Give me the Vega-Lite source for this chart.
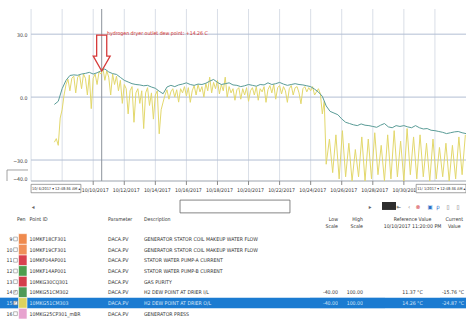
{
"$schema": "https://vega.github.io/schema/vega-lite/v6.json",
"padding": {"left": 0, "top": 8, "right": 0, "bottom": 0},
"background": "white",
"bounds": "flush",
"spacing": 42,
"config": {"view": {"stroke": null}, "font": "Liberation Sans Narrow, DejaVu Sans Condensed, Liberation Sans, sans-serif"},
"datasets": {
"table": [
{"row":"9","pid":"10MKF18CF301","param":"DACA.PV","desc":"GENERATOR STATOR COIL MAKEUP WATER FLOW","low":"","high":"","ref":"","cur":""},
{"row":"10","pid":"10MKF19CF301","param":"DACA.PV","desc":"GENERATOR STATOR COIL MAKEUP WATER FLOW","low":"","high":"","ref":"","cur":""},
{"row":"11","pid":"10MKF04AP001","param":"DACA.PV","desc":"STATOR WATER PUMP-A CURRENT","low":"","high":"","ref":"","cur":""},
{"row":"12","pid":"10MKF14AP001","param":"DACA.PV","desc":"STATOR WATER PUMP-B CURRENT","low":"","high":"","ref":"","cur":""},
{"row":"13","pid":"10MKG30CQ301","param":"DACA.PV","desc":"GAS PURITY","low":"","high":"","ref":"","cur":""},
{"row":"14","pid":"10MKG51CM302","param":"DACA.PV","desc":"H2 DEW POINT AT DRIER I/L","low":"-40.00","high":"100.00","ref":"11.37 °C","cur":"-15.76 °C"},
{"row":"15","pid":"10MKG51CM303","param":"DACA.PV","desc":"H2 DEW POINT AT DRIER O/L","low":"-40.00","high":"100.00","ref":"14.26 °C","cur":"-24.87 °C"},
{"row":"16","pid":"10MKG25CP301_mBR","param":"DACA.PV","desc":"GENERATOR PRESS","low":"","high":"","ref":"","cur":""}
],
"grid": [
{"time":"2017-10-06T00:00"},{"time":"2017-10-08T00:00"},{"time":"2017-10-10T00:00"},{"time":"2017-10-12T00:00"},{"time":"2017-10-14T00:00"},{"time":"2017-10-16T00:00"},{"time":"2017-10-18T00:00"},
{"time":"2017-10-20T00:00"},{"time":"2017-10-22T00:00"},{"time":"2017-10-24T00:00"},{"time":"2017-10-26T00:00"},{"time":"2017-10-28T00:00"},{"time":"2017-10-30T00:00"},{"time":"2017-11-01T00:00"}
],
"ticks": [
{"time":"2017-10-10T00:00"},{"time":"2017-10-12T00:00"},{"time":"2017-10-14T00:00"},{"time":"2017-10-16T00:00"},{"time":"2017-10-18T00:00"},{"time":"2017-10-20T00:00"},
{"time":"2017-10-22T00:00"},{"time":"2017-10-24T00:00"},{"time":"2017-10-26T00:00"},{"time":"2017-10-28T00:00"},{"time":"2017-10-30T00:00"}
],
"inlet": [
{"time":"2017-10-07T12:00","value":-3.5},{"time":"2017-10-07T18:00","value":-2.0},{"time":"2017-10-08T00:00","value":4.0},{"time":"2017-10-08T06:00","value":8.0},
{"time":"2017-10-08T12:00","value":10.3},{"time":"2017-10-08T18:00","value":10.6},{"time":"2017-10-09T00:00","value":10.4},{"time":"2017-10-09T06:00","value":11.0},
{"time":"2017-10-09T12:00","value":11.3},{"time":"2017-10-09T18:00","value":11.8},{"time":"2017-10-10T00:00","value":11.0},{"time":"2017-10-10T06:00","value":11.6},
{"time":"2017-10-10T12:00","value":12.5},{"time":"2017-10-10T18:00","value":13.4},{"time":"2017-10-11T00:00","value":12.0},{"time":"2017-10-11T06:00","value":11.2},
{"time":"2017-10-11T12:00","value":10.8},{"time":"2017-10-11T18:00","value":9.4},{"time":"2017-10-12T00:00","value":8.0},{"time":"2017-10-12T06:00","value":7.2},
{"time":"2017-10-12T12:00","value":6.4},{"time":"2017-10-12T18:00","value":6.0},{"time":"2017-10-13T00:00","value":5.8},{"time":"2017-10-13T06:00","value":5.4},
{"time":"2017-10-13T12:00","value":5.6},{"time":"2017-10-13T18:00","value":4.8},{"time":"2017-10-14T00:00","value":4.2},{"time":"2017-10-14T06:00","value":2.8},
{"time":"2017-10-14T12:00","value":1.6},{"time":"2017-10-14T18:00","value":4.8},{"time":"2017-10-15T00:00","value":5.6},{"time":"2017-10-15T06:00","value":5.0},
{"time":"2017-10-15T12:00","value":5.8},{"time":"2017-10-15T18:00","value":6.2},{"time":"2017-10-16T00:00","value":6.8},{"time":"2017-10-16T06:00","value":6.0},
{"time":"2017-10-16T12:00","value":5.6},{"time":"2017-10-16T18:00","value":6.2},{"time":"2017-10-17T00:00","value":6.0},{"time":"2017-10-17T06:00","value":6.6},
{"time":"2017-10-17T12:00","value":7.6},{"time":"2017-10-17T18:00","value":8.4},{"time":"2017-10-18T00:00","value":7.0},{"time":"2017-10-18T06:00","value":6.0},
{"time":"2017-10-18T12:00","value":6.4},{"time":"2017-10-18T18:00","value":6.8},{"time":"2017-10-19T00:00","value":5.8},{"time":"2017-10-19T06:00","value":5.6},
{"time":"2017-10-19T12:00","value":5.0},{"time":"2017-10-19T18:00","value":5.4},{"time":"2017-10-20T00:00","value":6.0},{"time":"2017-10-20T06:00","value":5.6},
{"time":"2017-10-20T12:00","value":5.2},{"time":"2017-10-20T18:00","value":6.0},{"time":"2017-10-21T00:00","value":5.8},{"time":"2017-10-21T06:00","value":6.8},
{"time":"2017-10-21T12:00","value":6.0},{"time":"2017-10-21T18:00","value":6.4},{"time":"2017-10-22T00:00","value":7.0},{"time":"2017-10-22T06:00","value":6.2},
{"time":"2017-10-22T12:00","value":5.6},{"time":"2017-10-22T18:00","value":6.0},{"time":"2017-10-23T00:00","value":6.4},{"time":"2017-10-23T06:00","value":6.0},
{"time":"2017-10-23T12:00","value":5.8},{"time":"2017-10-23T18:00","value":5.4},{"time":"2017-10-24T00:00","value":5.0},{"time":"2017-10-24T06:00","value":3.8},
{"time":"2017-10-24T12:00","value":2.4},{"time":"2017-10-24T18:00","value":0.4},{"time":"2017-10-25T00:00","value":-4.2},{"time":"2017-10-25T06:00","value":-6.8},
{"time":"2017-10-25T12:00","value":-7.6},{"time":"2017-10-25T18:00","value":-8.4},{"time":"2017-10-26T00:00","value":-10.4},{"time":"2017-10-26T06:00","value":-12.0},
{"time":"2017-10-26T12:00","value":-12.6},{"time":"2017-10-26T18:00","value":-13.2},{"time":"2017-10-27T00:00","value":-13.6},{"time":"2017-10-27T06:00","value":-12.8},
{"time":"2017-10-27T12:00","value":-13.4},{"time":"2017-10-27T18:00","value":-13.6},{"time":"2017-10-28T00:00","value":-14.0},{"time":"2017-10-28T06:00","value":-14.4},
{"time":"2017-10-28T12:00","value":-13.4},{"time":"2017-10-28T18:00","value":-12.6},{"time":"2017-10-29T00:00","value":-14.2},{"time":"2017-10-29T06:00","value":-14.6},
{"time":"2017-10-29T12:00","value":-13.6},{"time":"2017-10-29T18:00","value":-14.0},{"time":"2017-10-30T00:00","value":-13.6},{"time":"2017-10-30T06:00","value":-14.2},
{"time":"2017-10-30T12:00","value":-14.6},{"time":"2017-10-30T18:00","value":-13.6},{"time":"2017-10-31T00:00","value":-14.6},{"time":"2017-10-31T06:00","value":-15.2},
{"time":"2017-10-31T12:00","value":-15.0},{"time":"2017-10-31T18:00","value":-15.8},{"time":"2017-11-01T00:00","value":-16.0},{"time":"2017-11-01T06:00","value":-16.4},
{"time":"2017-11-01T12:00","value":-16.8},{"time":"2017-11-01T18:00","value":-17.4},{"time":"2017-11-02T00:00","value":-17.0},{"time":"2017-11-02T06:00","value":-16.6},
{"time":"2017-11-02T12:00","value":-16.4},{"time":"2017-11-02T18:00","value":-17.0},{"time":"2017-11-03T00:00","value":-17.4}
],
"outlet": [
{"time":"2017-10-07T12:00","value":-21.5},{"time":"2017-10-07T15:00","value":-19.8},{"time":"2017-10-07T18:00","value":-23.0},{"time":"2017-10-07T21:00","value":-10},
{"time":"2017-10-08T00:00","value":-6},{"time":"2017-10-08T03:00","value":1},{"time":"2017-10-08T06:00","value":6},{"time":"2017-10-08T09:00","value":8.5},
{"time":"2017-10-08T12:00","value":3},{"time":"2017-10-08T15:00","value":9},{"time":"2017-10-08T18:00","value":10},{"time":"2017-10-08T21:00","value":2},
{"time":"2017-10-09T00:00","value":9.5},{"time":"2017-10-09T03:00","value":10.5},{"time":"2017-10-09T06:00","value":4},{"time":"2017-10-09T09:00","value":11},
{"time":"2017-10-09T12:00","value":9},{"time":"2017-10-09T15:00","value":1},{"time":"2017-10-09T18:00","value":10.5},{"time":"2017-10-09T21:00","value":-5.5},
{"time":"2017-10-10T00:00","value":9},{"time":"2017-10-10T03:00","value":11},{"time":"2017-10-10T06:00","value":6},{"time":"2017-10-10T09:00","value":12},
{"time":"2017-10-10T12:00","value":11},{"time":"2017-10-10T15:00","value":13.8},{"time":"2017-10-10T18:00","value":8},{"time":"2017-10-10T21:00","value":12.5},
{"time":"2017-10-11T00:00","value":9.5},{"time":"2017-10-11T03:00","value":1},{"time":"2017-10-11T06:00","value":11},{"time":"2017-10-11T09:00","value":6},
{"time":"2017-10-11T12:00","value":10},{"time":"2017-10-11T15:00","value":3},{"time":"2017-10-11T18:00","value":8},{"time":"2017-10-11T21:00","value":-3},
{"time":"2017-10-12T00:00","value":6},{"time":"2017-10-12T03:00","value":4},{"time":"2017-10-12T06:00","value":-8},{"time":"2017-10-12T09:00","value":3},
{"time":"2017-10-12T12:00","value":5},{"time":"2017-10-12T15:00","value":-12},{"time":"2017-10-12T18:00","value":2},{"time":"2017-10-12T21:00","value":4},
{"time":"2017-10-13T00:00","value":-3},{"time":"2017-10-13T03:00","value":3},{"time":"2017-10-13T06:00","value":-15},{"time":"2017-10-13T09:00","value":2},
{"time":"2017-10-13T12:00","value":4.5},{"time":"2017-10-13T15:00","value":-4},{"time":"2017-10-13T18:00","value":2},{"time":"2017-10-13T21:00","value":-10.5},
{"time":"2017-10-14T00:00","value":1},{"time":"2017-10-14T03:00","value":3},{"time":"2017-10-14T06:00","value":-17.5},{"time":"2017-10-14T09:00","value":-6},
{"time":"2017-10-14T12:00","value":-2.4},{"time":"2017-10-14T15:00","value":1},{"time":"2017-10-14T18:00","value":3.5},{"time":"2017-10-14T21:00","value":-1},
{"time":"2017-10-15T00:00","value":2.5},{"time":"2017-10-15T03:00","value":4},{"time":"2017-10-15T06:00","value":0},{"time":"2017-10-15T09:00","value":3.5},
{"time":"2017-10-15T12:00","value":-2.4},{"time":"2017-10-15T15:00","value":4},{"time":"2017-10-15T18:00","value":2},{"time":"2017-10-15T21:00","value":5},
{"time":"2017-10-16T00:00","value":0.5},{"time":"2017-10-16T03:00","value":4.5},{"time":"2017-10-16T06:00","value":-2.5},{"time":"2017-10-16T09:00","value":3},
{"time":"2017-10-16T12:00","value":5.5},{"time":"2017-10-16T15:00","value":1},{"time":"2017-10-16T18:00","value":6},{"time":"2017-10-16T21:00","value":2.5},
{"time":"2017-10-17T00:00","value":5},{"time":"2017-10-17T03:00","value":0},{"time":"2017-10-17T06:00","value":6.5},{"time":"2017-10-17T09:00","value":3},
{"time":"2017-10-17T12:00","value":9.5},{"time":"2017-10-17T15:00","value":2},{"time":"2017-10-17T18:00","value":7},{"time":"2017-10-17T21:00","value":4},
{"time":"2017-10-18T00:00","value":8},{"time":"2017-10-18T03:00","value":1.5},{"time":"2017-10-18T06:00","value":6},{"time":"2017-10-18T09:00","value":3},
{"time":"2017-10-18T12:00","value":9.5},{"time":"2017-10-18T15:00","value":0},{"time":"2017-10-18T18:00","value":5},{"time":"2017-10-18T21:00","value":2},
{"time":"2017-10-19T00:00","value":4},{"time":"2017-10-19T03:00","value":-1.5},{"time":"2017-10-19T06:00","value":3.5},{"time":"2017-10-19T09:00","value":4.5},
{"time":"2017-10-19T12:00","value":-1},{"time":"2017-10-19T15:00","value":4},{"time":"2017-10-19T18:00","value":1},{"time":"2017-10-19T21:00","value":4.5},
{"time":"2017-10-20T00:00","value":-2},{"time":"2017-10-20T03:00","value":3},{"time":"2017-10-20T06:00","value":4.5},{"time":"2017-10-20T09:00","value":1},
{"time":"2017-10-20T12:00","value":5},{"time":"2017-10-20T15:00","value":-1.5},{"time":"2017-10-20T18:00","value":4},{"time":"2017-10-20T21:00","value":2.5},
{"time":"2017-10-21T00:00","value":5},{"time":"2017-10-21T03:00","value":-2.5},{"time":"2017-10-21T06:00","value":3.5},{"time":"2017-10-21T09:00","value":5.5},
{"time":"2017-10-21T12:00","value":2},{"time":"2017-10-21T15:00","value":6},{"time":"2017-10-21T18:00","value":-1},{"time":"2017-10-21T21:00","value":4.5},
{"time":"2017-10-22T00:00","value":5.5},{"time":"2017-10-22T03:00","value":1.5},{"time":"2017-10-22T06:00","value":5},{"time":"2017-10-22T09:00","value":3},
{"time":"2017-10-22T12:00","value":-2.5},{"time":"2017-10-22T15:00","value":4},{"time":"2017-10-22T18:00","value":5.5},{"time":"2017-10-22T21:00","value":1},
{"time":"2017-10-23T00:00","value":4.5},{"time":"2017-10-23T03:00","value":5},{"time":"2017-10-23T06:00","value":2},{"time":"2017-10-23T09:00","value":-3.2},
{"time":"2017-10-23T12:00","value":4},{"time":"2017-10-23T15:00","value":5},{"time":"2017-10-23T18:00","value":2.5},{"time":"2017-10-23T21:00","value":4.5},
{"time":"2017-10-24T00:00","value":3},{"time":"2017-10-24T03:00","value":5},{"time":"2017-10-24T06:00","value":1},{"time":"2017-10-24T09:00","value":2.5},
{"time":"2017-10-24T12:00","value":4},{"time":"2017-10-24T15:00","value":1.5},{"time":"2017-10-24T18:00","value":-8},{"time":"2017-10-24T21:00","value":-2},
{"time":"2017-10-25T00:00","value":-32},{"time":"2017-10-25T05:00","value":-20},{"time":"2017-10-25T10:00","value":-36},{"time":"2017-10-25T15:00","value":-18},
{"time":"2017-10-25T20:00","value":-39},{"time":"2017-10-26T01:00","value":-16},{"time":"2017-10-26T06:00","value":-38},{"time":"2017-10-26T11:00","value":-22},
{"time":"2017-10-26T16:00","value":-40},{"time":"2017-10-26T21:00","value":-25},{"time":"2017-10-27T02:00","value":-38},{"time":"2017-10-27T07:00","value":-19},
{"time":"2017-10-27T12:00","value":-40},{"time":"2017-10-27T17:00","value":-20},{"time":"2017-10-27T22:00","value":-39},{"time":"2017-10-28T03:00","value":-17},
{"time":"2017-10-28T08:00","value":-37},{"time":"2017-10-28T13:00","value":-23},{"time":"2017-10-28T18:00","value":-40},{"time":"2017-10-28T23:00","value":-18},
{"time":"2017-10-29T04:00","value":-39},{"time":"2017-10-29T09:00","value":-16},{"time":"2017-10-29T14:00","value":-38},{"time":"2017-10-29T19:00","value":-21},
{"time":"2017-10-30T00:00","value":-40},{"time":"2017-10-30T05:00","value":-15},{"time":"2017-10-30T10:00","value":-37},{"time":"2017-10-30T15:00","value":-19},
{"time":"2017-10-30T20:00","value":-39},{"time":"2017-10-31T01:00","value":-18},{"time":"2017-10-31T06:00","value":-38},{"time":"2017-10-31T11:00","value":-22},
{"time":"2017-10-31T16:00","value":-40},{"time":"2017-10-31T21:00","value":-20},{"time":"2017-11-01T02:00","value":-39},{"time":"2017-11-01T07:00","value":-24},
{"time":"2017-11-01T12:00","value":-38},{"time":"2017-11-01T17:00","value":-22},{"time":"2017-11-01T22:00","value":-40},{"time":"2017-11-02T03:00","value":-23},
{"time":"2017-11-02T08:00","value":-39},{"time":"2017-11-02T13:00","value":-19},{"time":"2017-11-02T18:00","value":-37},{"time":"2017-11-02T23:00","value":-18}
]
},
"vconcat": [
{
"width": 466, "height": 172,
"layer": [
{"data":{"name":"grid"},"mark":{"type":"rule","color":"#d9dee7","strokeWidth":1},
 "encoding":{
  "x":{"field":"time","type":"temporal","title":null,
   "scale":{"domain":[{"year":2017,"month":10,"date":4},{"year":2017,"month":11,"date":3}],"nice":false},
   "axis":{"grid":false,"domain":false,"ticks":false,"labels":false}}}},
{"data":{"values":[{"level":30},{"level":0},{"level":-30}]},"mark":{"type":"rule","color":"#b2bed3","strokeWidth":1},
 "encoding":{
  "y":{"field":"level","type":"quantitative","title":null,
   "scale":{"domain":[-40,42],"zero":false,"nice":false},
   "axis":{"values":[30,0,-30,-40],"offset":-31,"grid":false,"domain":false,"ticks":false,"tickSize":0,"labelPadding":4,"format":".1f","labelFlush":true,"labelFontSize":5.2,"labelColor":"#333333"}},
  "x":{"datum":{"year":2017,"month":10,"date":6},"type":"temporal","title":null},
  "x2":{"datum":{"year":2017,"month":11,"date":3}}}},
{"data":{"values":[{"level":-40}]},"mark":{"type":"rule","color":"#9ca3ad","strokeWidth":1},
 "encoding":{"y":{"field":"level","type":"quantitative","title":null},"x":{"datum":{"year":2017,"month":10,"date":6},"type":"temporal","title":null},"x2":{"datum":{"year":2017,"month":11,"date":3}}}},
{"data":{"name":"ticks"},"mark":{"type":"rule","color":"#8a8a8a","strokeWidth":1},
 "encoding":{"x":{"field":"time","type":"temporal","title":null},"y":{"datum":-40,"type":"quantitative","title":null},"y2":{"datum":-41.9}}},
{"data":{"values":[{"time":"2017-10-10T13:08"}]},"mark":{"type":"rule","color":"#8d939c","strokeWidth":1},
 "encoding":{"x":{"field":"time","type":"temporal","title":null}}},
{"data":{"name":"outlet"},"mark":{"type":"line","color":"#e3d86c","strokeWidth":1,"clip":true},
 "encoding":{"x":{"field":"time","type":"temporal","title":null},"y":{"field":"value","type":"quantitative","title":null}}},
{"data":{"name":"inlet"},"mark":{"type":"line","color":"#5a9c97","strokeWidth":1,"clip":true},
 "encoding":{"x":{"field":"time","type":"temporal","title":null},"y":{"field":"value","type":"quantitative","title":null}}},
{"data":{"values":[{"time":"2017-10-10T13:08","value":21.0}]},
 "mark":{"type":"point","shape":"M-0.28,-1L0.28,-1L0.28,0.17L0.47,0.17L0,1L-0.47,0.17L-0.28,0.17Z","size":1296,"filled":false,"stroke":"#d63b3b","strokeWidth":1.3,"opacity":1},
 "encoding":{"x":{"field":"time","type":"temporal","title":null},"y":{"field":"value","type":"quantitative","title":null}}},
{"data":{"values":[{"time":"2017-10-10T21:20","value":30.7,"label":"hydrogen dryer outlet dew point: +14.26 C"}]},
 "mark":{"type":"text","align":"left","baseline":"middle","fontSize":5.2,"color":"#d6322f"},
 "encoding":{"x":{"field":"time","type":"temporal","title":null},"y":{"field":"value","type":"quantitative","title":null},"text":{"field":"label"}}},
{"data":{"name":"ticks"},"mark":{"type":"text","align":"center","baseline":"middle","fontSize":5.2,"color":"#333333","dx":2},
 "encoding":{"x":{"field":"time","type":"temporal","title":null},"y":{"datum":-44.3,"type":"quantitative","title":null},"text":{"field":"time","type":"temporal","format":"%m/%d/%Y"}}},
{"data":{"values":[{"start":"2017-10-04T10:50","end":"2017-10-05T19:15","level":-34.75}]},"mark":{"type":"rule","color":"#8c8c8c","strokeWidth":0.8},
 "encoding":{"x":{"field":"start","type":"temporal","title":null},"x2":{"field":"end"},"y":{"field":"level","type":"quantitative","title":null}}},
{"data":{"values":[{"start":"2017-10-04T10:50","top":-34.75,"bottom":-40}]},"mark":{"type":"rule","color":"#8c8c8c","strokeWidth":0.8},
 "encoding":{"x":{"field":"start","type":"temporal","title":null},"y":{"field":"top","type":"quantitative","title":null},"y2":{"field":"bottom"}}},
{"data":{"values":[{"start":"2017-10-06T00:00","end":"2017-10-09T05:00"},{"start":"2017-10-30T19:00","end":"2017-11-03T00:00"}]},
 "mark":{"type":"rect","fill":"white","stroke":"#7a7a7a","strokeWidth":0.7},
 "encoding":{"x":{"field":"start","type":"temporal","title":null},"x2":{"field":"end"},"y":{"datum":-41.6,"type":"quantitative","title":null},"y2":{"datum":-45.6}}},
{"data":{"values":[{"time":"2017-10-06T01:30","label":"10/ 6/2017 ▾ 12:48:36 AM ▴"},{"time":"2017-10-30T20:30","label":"11/ 1/2017 ▾ 12:48:36 AM ▴"}]},
 "mark":{"type":"text","align":"left","baseline":"middle","fontSize":3.9,"color":"#333333"},
 "encoding":{"x":{"field":"time","type":"temporal","title":null},"y":{"datum":-43.6,"type":"quantitative","title":null},"text":{"field":"label"}}},
{"data":{"values":[{"start":"2017-10-15T14:10","end":"2017-10-22T16:00"}]},
 "mark":{"type":"rect","fill":"white","stroke":"#666666","strokeWidth":0.8},
 "encoding":{"x":{"field":"start","type":"temporal","title":null},"x2":{"field":"end"},"y":{"datum":-49.1,"type":"quantitative","title":null},"y2":{"datum":-55.2}}},
{"data":{"values":[{"start":"2017-10-28T14:10","end":"2017-10-29T11:50"}]},
 "mark":{"type":"rect","fill":"#2d2d2d"},
 "encoding":{"x":{"field":"start","type":"temporal","title":null},"x2":{"field":"end"},"y":{"datum":-50.0,"type":"quantitative","title":null},"y2":{"datum":-53.8}}},
{"data":{"values":[{"time":"2017-10-06T03:00","label":"◂"},{"time":"2017-10-27T19:40","label":"▸"},{"time":"2017-10-29T16:00","label":"⇤"},{"time":"2017-10-30T08:00","label":"‹"},{"time":"2017-11-01T20:10","label":"▯"},{"time":"2017-11-02T11:40","label":"▯"}]},
 "mark":{"type":"text","align":"center","baseline":"middle","fontSize":6,"color":"#666666"},
 "encoding":{"x":{"field":"time","type":"temporal","title":null},"y":{"datum":-52.4,"type":"quantitative","title":null},"text":{"field":"label"}}},
{"data":{"values":[{"time":"2017-10-30T21:50","label":"⊗"}]},
 "mark":{"type":"text","align":"center","baseline":"middle","fontSize":6,"color":"#d33a3a"},
 "encoding":{"x":{"field":"time","type":"temporal","title":null},"y":{"datum":-52.4,"type":"quantitative","title":null},"text":{"field":"label"}}},
{"data":{"values":[{"time":"2017-10-31T16:20","label":"▣"},{"time":"2017-11-01T04:50","label":"ρ"}]},
 "mark":{"type":"text","align":"center","baseline":"middle","fontSize":6,"color":"#2a6fc9"},
 "encoding":{"x":{"field":"time","type":"temporal","title":null},"y":{"datum":-52.4,"type":"quantitative","title":null},"text":{"field":"label"}}}
]
},
{
"hconcat": [
{"width":13,"height":96,"data":{"name":"table"},"layer":[
 {"transform":[{"filter":"datum.row === '15'"}],"mark":{"type":"rect","fill":"#1b7bd1"},"encoding":{"x":{"datum":0,"type":"quantitative","scale":{"domain":[0,1]},"axis":null},"x2":{"datum":1},"y":{"field":"row","type":"nominal","scale":{"domain":["hdr","9","10","11","12","13","14","15","16"],"paddingInner":0,"paddingOuter":0},"axis":null}}},
 {"mark":{"type":"text","align":"right","baseline":"middle","fontSize":5.2},"encoding":{"x":{"datum":0.95,"type":"quantitative","scale":{"domain":[0,1]},"axis":null},"y":{"field":"row","type":"nominal","scale":{"domain":["hdr","9","10","11","12","13","14","15","16"],"paddingInner":0,"paddingOuter":0},"axis":null},"text":{"field":"row"},"color":{"condition":{"test":"datum.row === '15'","value":"#d8e6f7"},"value":"#333333"}}}
]},
{"width":5,"height":96,"data":{"name":"table"},"layer":[
 {"transform":[{"filter":"datum.row === '15'"}],"mark":{"type":"rect","fill":"#1b7bd1"},"encoding":{"x":{"datum":0,"type":"quantitative","scale":{"domain":[0,1]},"axis":null},"x2":{"datum":1},"y":{"field":"row","type":"nominal","scale":{"domain":["hdr","9","10","11","12","13","14","15","16"],"paddingInner":0,"paddingOuter":0},"axis":null}}},
 {"mark":{"type":"square","size":14,"filled":true,"fill":"white","stroke":"#8a8a8a","strokeWidth":0.6,"opacity":1},"encoding":{"x":{"datum":0.5,"type":"quantitative","scale":{"domain":[0,1]},"axis":null},"y":{"field":"row","type":"nominal","scale":{"domain":["hdr","9","10","11","12","13","14","15","16"],"paddingInner":0,"paddingOuter":0},"axis":null}}},
 {"transform":[{"filter":"datum.row === '14' || datum.row === '15'"}],"mark":{"type":"text","text":"✓","fontSize":4.5,"color":"#222222","baseline":"middle"},"encoding":{"x":{"datum":0.5,"type":"quantitative","scale":{"domain":[0,1]},"axis":null},"y":{"field":"row","type":"nominal","scale":{"domain":["hdr","9","10","11","12","13","14","15","16"],"paddingInner":0,"paddingOuter":0},"axis":null}}}
]},
{"width":10,"height":96,"data":{"name":"table"},"layer":[
 {"transform":[{"filter":"datum.row === '15'"}],"mark":{"type":"rect","fill":"#1b7bd1"},"encoding":{"x":{"datum":0,"type":"quantitative","scale":{"domain":[0,1]},"axis":null},"x2":{"datum":1},"y":{"field":"row","type":"nominal","scale":{"domain":["hdr","9","10","11","12","13","14","15","16"],"paddingInner":0,"paddingOuter":0},"axis":null}}},
 {"mark":{"type":"rect","stroke":"white","strokeWidth":0.6},"encoding":{"x":{"datum":0.05,"type":"quantitative","scale":{"domain":[0,1]},"axis":null},"x2":{"datum":0.9},"y":{"field":"row","type":"nominal","scale":{"domain":["hdr","9","10","11","12","13","14","15","16"],"paddingInner":0,"paddingOuter":0},"axis":null},
   "color":{"field":"row","type":"nominal","scale":{"domain":["9","10","11","12","13","14","15","16"],"range":["#ef8a4e","#f0905a","#d9414f","#4e9e4e","#d43d4b","#4f9b57","#ddd35e","#e7a3cf"]},"legend":null}}},
 {"data":{"values":[{}]},"mark":{"type":"text","align":"left","baseline":"middle","fontSize":5.2,"dy":-9,"color":"#333333"},"encoding":{"x":{"datum":-0.1,"type":"quantitative","scale":{"domain":[0,1]},"axis":null},"y":{"datum":"hdr","type":"nominal"},"text":{"value":"Pen"}}}
]},
{"width":80,"height":96,"data":{"name":"table"},"layer":[
 {"transform":[{"filter":"datum.row === '15'"}],"mark":{"type":"rect","fill":"#1b7bd1"},"encoding":{"x":{"datum":0,"type":"quantitative","scale":{"domain":[0,1]},"axis":null},"x2":{"datum":1},"y":{"field":"row","type":"nominal","scale":{"domain":["hdr","9","10","11","12","13","14","15","16"],"paddingInner":0,"paddingOuter":0},"axis":null}}},
 {"mark":{"type":"text","align":"left","baseline":"middle","fontSize":5.2},"encoding":{"x":{"datum":0.02,"type":"quantitative","scale":{"domain":[0,1]},"axis":null},"y":{"field":"row","type":"nominal","scale":{"domain":["hdr","9","10","11","12","13","14","15","16"],"paddingInner":0,"paddingOuter":0},"axis":null},"text":{"field":"pid"},"color":{"condition":{"test":"datum.row === '15'","value":"#d8e6f7"},"value":"#333333"}}},
 {"data":{"values":[{}]},"mark":{"type":"text","align":"left","baseline":"middle","fontSize":5.2,"dy":-9,"color":"#333333"},"encoding":{"x":{"datum":0.02,"type":"quantitative","scale":{"domain":[0,1]},"axis":null},"y":{"datum":"hdr","type":"nominal"},"text":{"value":"Point ID"}}}
]},
{"width":36,"height":96,"data":{"name":"table"},"layer":[
 {"transform":[{"filter":"datum.row === '15'"}],"mark":{"type":"rect","fill":"#1b7bd1"},"encoding":{"x":{"datum":0,"type":"quantitative","scale":{"domain":[0,1]},"axis":null},"x2":{"datum":1},"y":{"field":"row","type":"nominal","scale":{"domain":["hdr","9","10","11","12","13","14","15","16"],"paddingInner":0,"paddingOuter":0},"axis":null}}},
 {"mark":{"type":"text","align":"left","baseline":"middle","fontSize":5.2},"encoding":{"x":{"datum":0,"type":"quantitative","scale":{"domain":[0,1]},"axis":null},"y":{"field":"row","type":"nominal","scale":{"domain":["hdr","9","10","11","12","13","14","15","16"],"paddingInner":0,"paddingOuter":0},"axis":null},"text":{"field":"param"},"color":{"condition":{"test":"datum.row === '15'","value":"#d8e6f7"},"value":"#333333"}}},
 {"data":{"values":[{}]},"mark":{"type":"text","align":"left","baseline":"middle","fontSize":5.2,"dy":-9,"color":"#333333"},"encoding":{"x":{"datum":0,"type":"quantitative","scale":{"domain":[0,1]},"axis":null},"y":{"datum":"hdr","type":"nominal"},"text":{"value":"Parameter"}}}
]},
{"width":166,"height":96,"data":{"name":"table"},"layer":[
 {"transform":[{"filter":"datum.row === '15'"}],"mark":{"type":"rect","fill":"#1b7bd1"},"encoding":{"x":{"datum":0,"type":"quantitative","scale":{"domain":[0,1]},"axis":null},"x2":{"datum":1},"y":{"field":"row","type":"nominal","scale":{"domain":["hdr","9","10","11","12","13","14","15","16"],"paddingInner":0,"paddingOuter":0},"axis":null}}},
 {"mark":{"type":"text","align":"left","baseline":"middle","fontSize":5.2},"encoding":{"x":{"datum":0,"type":"quantitative","scale":{"domain":[0,1]},"axis":null},"y":{"field":"row","type":"nominal","scale":{"domain":["hdr","9","10","11","12","13","14","15","16"],"paddingInner":0,"paddingOuter":0},"axis":null},"text":{"field":"desc"},"color":{"condition":{"test":"datum.row === '15'","value":"#d8e6f7"},"value":"#333333"}}},
 {"data":{"values":[{}]},"mark":{"type":"text","align":"left","baseline":"middle","fontSize":5.2,"dy":-9,"color":"#333333"},"encoding":{"x":{"datum":0,"type":"quantitative","scale":{"domain":[0,1]},"axis":null},"y":{"datum":"hdr","type":"nominal"},"text":{"value":"Description"}}}
]},
{"width":28,"height":96,"data":{"name":"table"},"layer":[
 {"transform":[{"filter":"datum.row === '15'"}],"mark":{"type":"rect","fill":"#1b7bd1"},"encoding":{"x":{"datum":0,"type":"quantitative","scale":{"domain":[0,1]},"axis":null},"x2":{"datum":1},"y":{"field":"row","type":"nominal","scale":{"domain":["hdr","9","10","11","12","13","14","15","16"],"paddingInner":0,"paddingOuter":0},"axis":null}}},
 {"mark":{"type":"text","align":"right","baseline":"middle","fontSize":5.2},"encoding":{"x":{"datum":1,"type":"quantitative","scale":{"domain":[0,1]},"axis":null},"y":{"field":"row","type":"nominal","scale":{"domain":["hdr","9","10","11","12","13","14","15","16"],"paddingInner":0,"paddingOuter":0},"axis":null},"text":{"field":"low"},"color":{"condition":{"test":"datum.row === '15'","value":"#d8e6f7"},"value":"#333333"}}},
 {"data":{"values":[{}]},"mark":{"type":"text","align":"right","baseline":"middle","fontSize":5.2,"lineHeight":6.5,"dy":-9,"color":"#333333"},"encoding":{"x":{"datum":1,"type":"quantitative","scale":{"domain":[0,1]},"axis":null},"y":{"datum":"hdr","type":"nominal"},"text":{"value":["Low","Scale"]}}}
]},
{"width":25,"height":96,"data":{"name":"table"},"layer":[
 {"transform":[{"filter":"datum.row === '15'"}],"mark":{"type":"rect","fill":"#1b7bd1"},"encoding":{"x":{"datum":0,"type":"quantitative","scale":{"domain":[0,1]},"axis":null},"x2":{"datum":1},"y":{"field":"row","type":"nominal","scale":{"domain":["hdr","9","10","11","12","13","14","15","16"],"paddingInner":0,"paddingOuter":0},"axis":null}}},
 {"mark":{"type":"text","align":"right","baseline":"middle","fontSize":5.2},"encoding":{"x":{"datum":1,"type":"quantitative","scale":{"domain":[0,1]},"axis":null},"y":{"field":"row","type":"nominal","scale":{"domain":["hdr","9","10","11","12","13","14","15","16"],"paddingInner":0,"paddingOuter":0},"axis":null},"text":{"field":"high"},"color":{"condition":{"test":"datum.row === '15'","value":"#d8e6f7"},"value":"#333333"}}},
 {"data":{"values":[{}]},"mark":{"type":"text","align":"right","baseline":"middle","fontSize":5.2,"lineHeight":6.5,"dy":-9,"color":"#333333"},"encoding":{"x":{"datum":1,"type":"quantitative","scale":{"domain":[0,1]},"axis":null},"y":{"datum":"hdr","type":"nominal"},"text":{"value":["High","Scale"]}}}
]},
{"width":22,"height":96,"data":{"name":"table"},"layer":[
 {"transform":[{"filter":"datum.row === '15'"}],"mark":{"type":"rect","fill":"#1b7bd1"},"encoding":{"x":{"datum":0,"type":"quantitative","scale":{"domain":[0,1]},"axis":null},"x2":{"datum":1},"y":{"field":"row","type":"nominal","scale":{"domain":["hdr","9","10","11","12","13","14","15","16"],"paddingInner":0,"paddingOuter":0},"axis":null}}}
]},
{"width":55,"height":96,"data":{"name":"table"},"layer":[
 {"transform":[{"filter":"datum.row === '15'"}],"mark":{"type":"rect","fill":"#1b7bd1"},"encoding":{"x":{"datum":0,"type":"quantitative","scale":{"domain":[0,1]},"axis":null},"x2":{"datum":1},"y":{"field":"row","type":"nominal","scale":{"domain":["hdr","9","10","11","12","13","14","15","16"],"paddingInner":0,"paddingOuter":0},"axis":null}}},
 {"mark":{"type":"text","align":"center","baseline":"middle","fontSize":5.2},"encoding":{"x":{"datum":0.5,"type":"quantitative","scale":{"domain":[0,1]},"axis":null},"y":{"field":"row","type":"nominal","scale":{"domain":["hdr","9","10","11","12","13","14","15","16"],"paddingInner":0,"paddingOuter":0},"axis":null},"text":{"field":"ref"},"color":{"condition":{"test":"datum.row === '15'","value":"#d8e6f7"},"value":"#333333"}}},
 {"data":{"values":[{}]},"mark":{"type":"text","align":"center","baseline":"middle","fontSize":5.2,"lineHeight":6.5,"dy":-9,"color":"#333333"},"encoding":{"x":{"datum":0.5,"type":"quantitative","scale":{"domain":[0,1]},"axis":null},"y":{"datum":"hdr","type":"nominal"},"text":{"value":["Reference Value","10/10/2017 11:20:00 PM"]}}}
]},
{"width":26,"height":96,"data":{"name":"table"},"layer":[
 {"transform":[{"filter":"datum.row === '15'"}],"mark":{"type":"rect","fill":"#1b7bd1"},"encoding":{"x":{"datum":0,"type":"quantitative","scale":{"domain":[0,1]},"axis":null},"x2":{"datum":1},"y":{"field":"row","type":"nominal","scale":{"domain":["hdr","9","10","11","12","13","14","15","16"],"paddingInner":0,"paddingOuter":0},"axis":null}}},
 {"mark":{"type":"text","align":"center","baseline":"middle","fontSize":5.2},"encoding":{"x":{"datum":0.5,"type":"quantitative","scale":{"domain":[0,1]},"axis":null},"y":{"field":"row","type":"nominal","scale":{"domain":["hdr","9","10","11","12","13","14","15","16"],"paddingInner":0,"paddingOuter":0},"axis":null},"text":{"field":"cur"},"color":{"condition":{"test":"datum.row === '15'","value":"#d8e6f7"},"value":"#333333"}}},
 {"data":{"values":[{}]},"mark":{"type":"text","align":"center","baseline":"middle","fontSize":5.2,"lineHeight":6.5,"dy":-9,"color":"#333333"},"encoding":{"x":{"datum":0.55,"type":"quantitative","scale":{"domain":[0,1]},"axis":null},"y":{"datum":"hdr","type":"nominal"},"text":{"value":["Current","Value"]}}}
]}
],
"spacing": 0,
"bounds": "flush"
}
]
}
